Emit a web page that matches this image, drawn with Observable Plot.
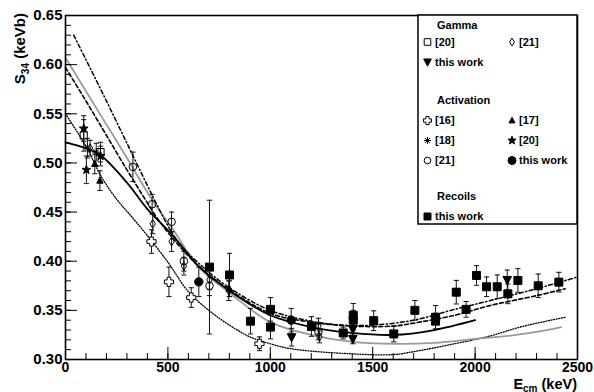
<!DOCTYPE html>
<html><head><meta charset="utf-8">
<script src="https://cdn.jsdelivr.net/npm/d3@7"></script>
<script src="https://cdn.jsdelivr.net/npm/@observablehq/plot@0.6"></script>
<style>
body{margin:0;background:#fff}
#chart{position:relative;width:594px;height:392px}
svg{font-family:"Liberation Sans",Arial,sans-serif;font-weight:bold}
</style>
</head><body><div id="chart"></div>
<script>
// ---- data: [E_cm (keV), S34 (keV b), error] ----
const gamma20 = [[89,0.528,0.016],[171,0.511,0.010]];
const gamma21 = [[120,0.515,0.008],[426,0.438,0.010],[518,0.420,0.010],[578,0.395,0.009],[703,0.381,0.010],[797,0.370,0.010],[1235,0.334,0.008],[1240,0.323,0.006]];
const gammaThis = [[1104,0.3227,0.009],[1403,0.331,0.007],[1403,0.321,0.005],[2157,0.381,0.010]];
const act16 = [[420,0.420,0.012],[505,0.379,0.015],[614,0.363,0.010],[947,0.316,0.007]];
const act17 = [[143,0.499,0.010],[168,0.482,0.010],[800,0.372,0.008]];
const act18 = [[107,0.515,0.010],[150,0.511,0.009]];
const act20 = [[89,0.535,0.013],[102,0.493,0.014],[171,0.507,0.010]];
const act21 = [[329,0.496,0.015],[423,0.458,0.010],[518,0.440,0.010],[578,0.400,0.010],[703,0.375,0.010],[1235,0.328,0.008]];
const actThis = [[651,0.379,0.015],[1102,0.340,0.012]];
const recThis = [[703,0.394,0.068],[801,0.386,0.022],[903,0.339,0.013],[1001,0.351,0.012],[1001,0.333,0.012],[1201,0.3336,0.010],[1356,0.327,0.006],[1405,0.345,0.012],[1405,0.340,0.010],[1505,0.3395,0.010],[1603,0.326,0.008],[1706,0.350,0.010],[1807,0.343,0.012],[1807,0.339,0.008],[1908,0.3685,0.012],[1956,0.351,0.008],[2007,0.3855,0.010],[2056,0.374,0.010],[2108,0.374,0.012],[2160,0.3668,0.010],[2209,0.3804,0.012],[2308,0.375,0.012],[2409,0.3787,0.010]];

// ---- curves: [E_cm, S34] ----
const curveSolid = [[0,0.521],[100,0.515],[170,0.508],[300,0.480],[400,0.453],[520,0.427],[650,0.395],[800,0.370],[1000,0.345],[1200,0.333],[1400,0.327],[1600,0.325],[1800,0.330],[2000,0.340]];
const curveGray = [[0,0.607],[100,0.573],[200,0.539],[300,0.505],[430,0.460],[520,0.434],[650,0.394],[800,0.368],[1000,0.338],[1200,0.325],[1400,0.318],[1600,0.316],[1800,0.317],[2000,0.321],[2200,0.325],[2300,0.328],[2420,0.333]];
const curveDashed = [[0,0.597],[100,0.563],[200,0.528],[300,0.493],[380,0.466],[450,0.443],[513,0.426],[562,0.414],[650,0.395],[800,0.371],[1000,0.347],[1200,0.338],[1400,0.334],[1600,0.334],[1700,0.337],[1900,0.345],[2075,0.355],[2300,0.365],[2440,0.372]];
const curveDashDot = [[40,0.630],[100,0.605],[200,0.563],[300,0.520],[400,0.477],[450,0.456],[500,0.436],[560,0.417],[650,0.398],[800,0.373],[1000,0.350],[1200,0.339],[1350,0.335],[1500,0.335],[1700,0.340],[1900,0.351],[2075,0.360],[2300,0.372],[2500,0.384]];
const curveDotted = [[0,0.550],[100,0.517],[175,0.486],[250,0.463],[320,0.446],[400,0.426],[500,0.399],[600,0.369],[700,0.350],[800,0.335],[900,0.323],[1000,0.316],[1100,0.311],[1375,0.306],[1600,0.305],[1700,0.308],[1900,0.316],[2075,0.324],[2220,0.333],[2440,0.343]];

// ---- ticks ----
const xMajor = [0,500,1000,1500,2000,2500];
const xMinor = d3.range(0,2501,100);
const yMajor = [0.30,0.35,0.40,0.45,0.50,0.55,0.60,0.65];
const yMinor = d3.range(30,66).map(i=>i/100);

// ---- symbols ----
const sym = fn => ({draw(c,size){const r=Math.sqrt(size/Math.PI); fn(c,r);}});
const SQUARE = sym((c,r)=>{c.moveTo(-r,-r);c.lineTo(r,-r);c.lineTo(r,r);c.lineTo(-r,r);c.closePath();});
const TRI_DOWN = sym((c,r)=>{c.moveTo(-r,-0.8*r);c.lineTo(r,-0.8*r);c.lineTo(0,1.1*r);c.closePath();});
const TRI_UP = sym((c,r)=>{c.moveTo(-r,0.8*r);c.lineTo(r,0.8*r);c.lineTo(0,-1.1*r);c.closePath();});
const DIAMOND = sym((c,r)=>{c.moveTo(0,-1.2*r);c.lineTo(0.75*r,0);c.lineTo(0,1.2*r);c.lineTo(-0.75*r,0);c.closePath();});
const CIRCLE = sym((c,r)=>{c.moveTo(r,0);c.arc(0,0,r,0,2*Math.PI);});
const OPEN_CROSS = sym((c,r)=>{const a=r*0.4;c.moveTo(-a,-r);c.lineTo(a,-r);c.lineTo(a,-a);c.lineTo(r,-a);c.lineTo(r,a);c.lineTo(a,a);c.lineTo(a,r);c.lineTo(-a,r);c.lineTo(-a,a);c.lineTo(-r,a);c.lineTo(-r,-a);c.lineTo(-a,-a);c.closePath();});
const ASTER = sym((c,r)=>{for(let k=0;k<4;k++){const t=k*Math.PI/4;c.moveTo(-r*Math.cos(t),-r*Math.sin(t));c.lineTo(r*Math.cos(t),r*Math.sin(t));}});
const STAR = sym((c,r)=>{for(let i=0;i<10;i++){const rad=i%2?r*0.42:r;const t=-Math.PI/2+i*Math.PI/5;const x=rad*Math.cos(t),y=rad*Math.sin(t);i?c.lineTo(x,y):c.moveTo(x,y);}c.closePath();});
const CAP = sym((c,r)=>{c.moveTo(-r,0);c.lineTo(r,0);});

const series = [
  {data: recThis,  symbol: SQUARE,     fill: "black", stroke: "black", r: 4},
  {data: gamma20,  symbol: SQUARE,     fill: "none",  stroke: "black", r: 3.6},
  {data: gamma21,  symbol: DIAMOND,    fill: "none",  stroke: "black", r: 3.6},
  {data: gammaThis,symbol: TRI_DOWN,   fill: "black", stroke: "black", r: 4.3},
  {data: act16,    symbol: OPEN_CROSS, fill: "white", stroke: "black", r: 4.6},
  {data: act17,    symbol: TRI_UP,     fill: "black", stroke: "black", r: 3.2},
  {data: act18,    symbol: ASTER,      fill: "none",  stroke: "black", r: 4},
  {data: act20,    symbol: STAR,       fill: "black", stroke: "black", r: 4.6},
  {data: act21,    symbol: CIRCLE,     fill: "none",  stroke: "black", r: 3.8},
  {data: actThis,  symbol: CIRCLE,     fill: "black", stroke: "black", r: 4.2}
];

const W = 594, H = 392, mL = 65, mR = 17, mT = 15, mB = 33;
const innerW = W - mL - mR, innerH = H - mT - mB;

const pointMarks = series.flatMap(s => [
  Plot.ruleX(s.data, {x: d=>d[0], y1: d=>d[1]-d[2], y2: d=>d[1]+d[2], stroke: "#111", strokeWidth: 1}),
  Plot.dot(s.data, {x: d=>d[0], y: d=>d[1]+d[2], symbol: CAP, r: 2.6, stroke: "#111", strokeWidth: 1}),
  Plot.dot(s.data, {x: d=>d[0], y: d=>d[1]-d[2], symbol: CAP, r: 2.6, stroke: "#111", strokeWidth: 1}),
  Plot.dot(s.data, {x: d=>d[0], y: d=>d[1], symbol: s.symbol, r: s.r, fill: s.fill, stroke: s.stroke, strokeWidth: 1})
]);

const chart = Plot.plot({
  width: W, height: H,
  marginLeft: mL, marginRight: mR, marginTop: mT, marginBottom: mB,
  style: {fontFamily: '"Liberation Sans", Arial, sans-serif', fontWeight: "bold", background: "white", overflow: "visible"},
  x: {domain: [0,2500]},
  y: {domain: [0.30,0.65]},
  marks: [
    Plot.line(curveDotted,  {x: d=>d[0], y: d=>d[1], stroke: "black", strokeWidth: 1.3, strokeDasharray: "1,1.6", curve: "catmull-rom"}),
    Plot.line(curveGray,    {x: d=>d[0], y: d=>d[1], stroke: "#9a9a9a", strokeWidth: 1.8, curve: "catmull-rom"}),
    Plot.line(curveDashed,  {x: d=>d[0], y: d=>d[1], stroke: "black", strokeWidth: 1.6, strokeDasharray: "4,2.5", curve: "catmull-rom"}),
    Plot.line(curveDashDot, {x: d=>d[0], y: d=>d[1], stroke: "black", strokeWidth: 1.5, strokeDasharray: "4,2.5,1.2,2.5", curve: "catmull-rom"}),
    Plot.line(curveSolid,   {x: d=>d[0], y: d=>d[1], stroke: "black", strokeWidth: 1.8, curve: "catmull-rom"}),
    ...pointMarks,
    Plot.tickY(yMinor, {y: d=>d, stroke: "black", strokeWidth: 1, insetRight: innerW - 6}),
    Plot.tickY(yMajor, {y: d=>d, stroke: "black", strokeWidth: 1, insetRight: innerW - 12}),
    Plot.tickX(xMinor, {x: d=>d, stroke: "black", strokeWidth: 1, insetTop: innerH - 6}),
    Plot.tickX(xMajor, {x: d=>d, stroke: "black", strokeWidth: 1, insetTop: innerH - 12}),
    Plot.axisY(yMajor, {tickSize: 0, tickPadding: 3, tickFormat: d3.format(".2f"), fontSize: 15, fontWeight: "bold", fill: "black", label: null}),
    Plot.axisX(xMajor, {tickSize: 0, tickPadding: 3, tickFormat: d=>String(d), fontSize: 14, fontWeight: "bold", fill: "black", label: null}),
    Plot.frame({stroke: "black", strokeWidth: 1.6})
  ]
});

const svg = d3.select(chart);
// Axis titles
const yt = svg.append("text")
  .attr("transform", "translate(25,13) rotate(-90)")
  .attr("text-anchor", "end").attr("font-size", 15).attr("font-weight", "bold").attr("fill", "black");
yt.append("tspan").text("S");
yt.append("tspan").attr("font-size", 10).attr("dy", 4).text("34");
yt.append("tspan").attr("dy", -4).text(" (keVb)");

const xt = svg.append("text")
  .attr("x", 577).attr("y", 388.5)
  .attr("text-anchor", "end").attr("font-size", 14.5).attr("font-weight", "bold").attr("fill", "black");
xt.append("tspan").text("E");
xt.append("tspan").attr("font-size", 10).attr("dy", 3).text("cm");
xt.append("tspan").attr("dy", -3).text(" (keV)");

// Legend
const lg = svg.append("g").attr("font-size", 11).attr("font-weight", "bold").attr("fill", "black").attr("text-anchor", "start");
lg.append("rect").attr("x", 418).attr("y", 15).attr("width", 159).attr("height", 209)
  .attr("fill", "white").attr("stroke", "black").attr("stroke-width", 1.5);
const header = (t, y) => lg.append("text").attr("x", 437).attr("y", y).text(t);
const entry = (s, fill, r, mx, my, tx, t) => {
  lg.append("path").attr("transform", `translate(${mx},${my})`)
    .attr("d", d3.symbol(s, Math.PI*r*r)()).attr("fill", fill).attr("stroke", "black").attr("stroke-width", 1);
  lg.append("text").attr("x", tx).attr("y", my + 3.8).text(t);
};
header("Gamma", 28.5);
entry(SQUARE, "none", 3.3, 427.5, 42, 435, "[20]");
entry(DIAMOND, "none", 3.3, 512, 42, 519, "[21]");
entry(TRI_DOWN, "black", 3.8, 427.5, 62, 435, "this work");
header("Activation", 103.5);
entry(OPEN_CROSS, "white", 4, 427.5, 120.5, 435, "[16]");
entry(TRI_UP, "black", 3, 512, 120.5, 519, "[17]");
entry(ASTER, "none", 3.5, 427.5, 140.5, 435, "[18]");
entry(STAR, "black", 4.3, 512, 140.5, 519, "[20]");
entry(CIRCLE, "none", 3.3, 427.5, 160.5, 435, "[21]");
entry(CIRCLE, "black", 4, 512, 160.5, 519, "this work");
header("Recoils", 200);
entry(SQUARE, "black", 3.5, 427.5, 216.5, 435, "this work");

document.getElementById("chart").appendChild(chart);
</script>
</body></html>
